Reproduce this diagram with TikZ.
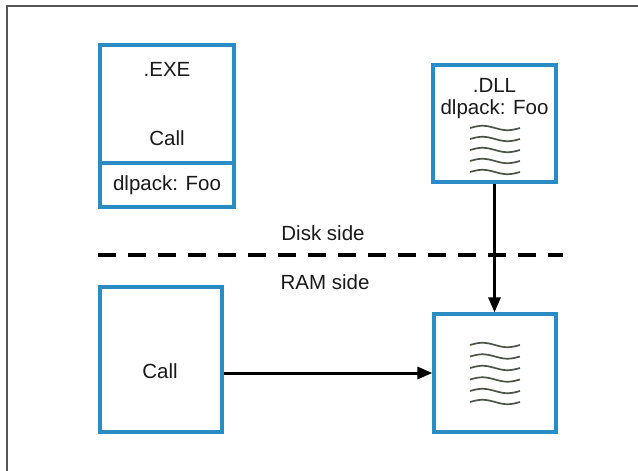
\documentclass[tikz,border=0pt]{standalone}
\usepackage{fontspec}
\setmainfont{Liberation Sans}
\usetikzlibrary{arrows.meta,positioning}
\definecolor{boxblue}{HTML}{2A8CC4}
\definecolor{waveink}{HTML}{4A5443}
\definecolor{frameink}{HTML}{555555}

\begin{document}
\begin{tikzpicture}[
  x=1pt, y=-1pt,
  box/.style={draw=boxblue, line width=3.2pt, rectangle, inner sep=0pt},
  label/.style={font=\fontsize{20.5}{24}\selectfont, text=black!90, inner sep=0pt},
  wave/.style={draw=waveink, line width=1.7pt},
  link/.style={-{Triangle[length=15pt,width=12pt]}, line width=3pt}
]
  \useasboundingbox (0,0) rectangle (638,471);
  \draw[frameink, line width=2pt] (638,6) -- (7,6) -- (7,471);

  % disk side
  \node[box, minimum width=134pt, minimum height=118pt] (exetop) at (167,104) {};
  \node[box, minimum width=134pt, minimum height=44pt] (exebot) at (167,185) {};
  \node[label] (exename) at (167,69) {.EXE};
  \node[label] (execall) at (167,138) {Call};
  \node[label] (exepack) at (exebot) {dlpack: Foo};

  \node[box, minimum width=123pt, minimum height=117pt] (dll) at (494.5,123.5) {};
  \node[label] (dllname) at (494.5,85) {.DLL};
  \node[label] (dllpack) at (494.5,109) {dlpack: Foo};
  \foreach \y in {128,139,150,161,172}
    \draw[wave] plot[domain=0:1, samples=30] ({470+50*\x},{\y-2.2*sin(360*\x)});

  % dividing line
  \coordinate (sideL) at (98,255);
  \coordinate (sideR) at (563,255);
  \draw[line width=3.2pt, dash pattern=on 18pt off 12pt] (sideL) -- (sideR);
  \node[label] (disk) at (323,233) {Disk side};
  \node[label] (ram) at (325,282) {RAM side};

  % RAM side
  \node[box, minimum width=122pt, minimum height=145pt] (call) at (161,359.5) {};
  \node[label] (callname) at (160,371) {Call};

  \node[box, minimum width=122pt, minimum height=118pt] (image) at (495,373) {};
  \foreach \y in {345,356.5,368,379.5,391,402}
    \draw[wave] plot[domain=0:1, samples=30] ({470+50*\x},{\y-2.2*sin(360*\x)});

  \draw[link] (dll.south) -- (dll.south |- image.north);
  \draw[link] (call.east |- image) -- (image.west);
\end{tikzpicture}
\end{document}
